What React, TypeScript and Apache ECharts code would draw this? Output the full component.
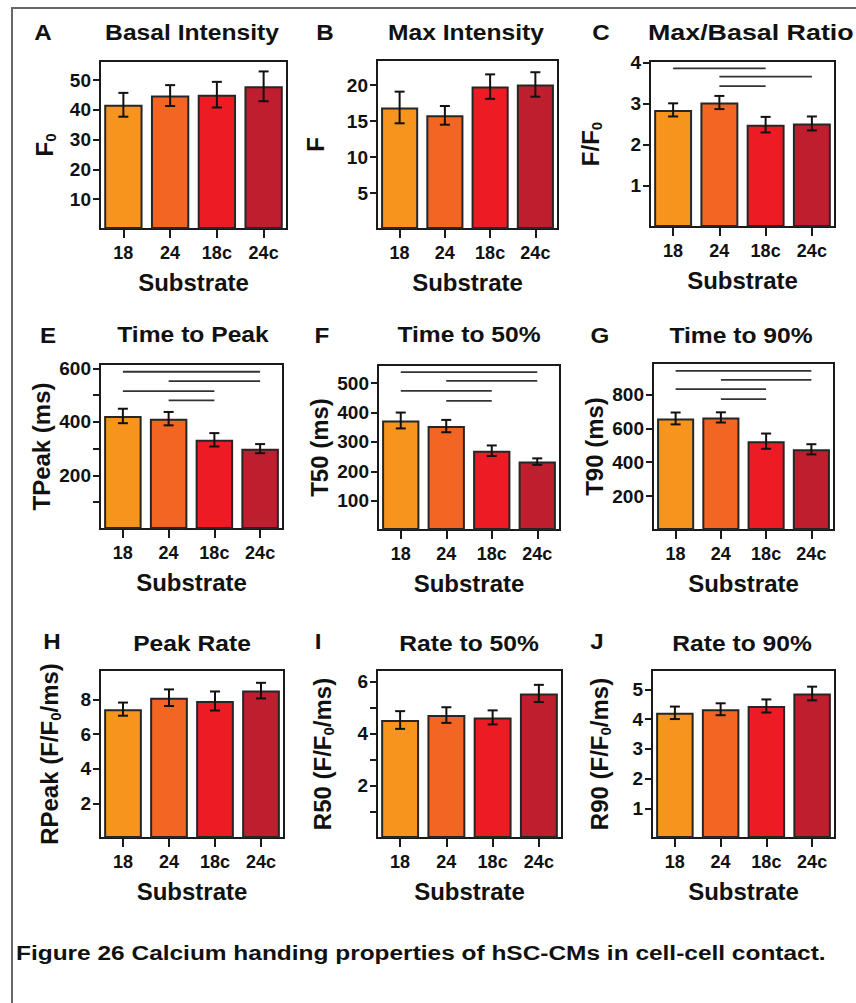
import React, { useEffect, useRef } from 'react';
import * as echarts from 'echarts';

const categories = ['18', '24', '18c', '24c'];
const barColors = ['#F7941E', '#F26522', '#ED1C24', '#BE1E2D'];

// A Basal Intensity
const basalMean = [41.7, 44.8, 45.1, 47.9];
const basalErr = [4.0, 3.5, 4.3, 5.0];
const basalTicks = [10, 20, 30, 40, 50];
// B Max Intensity
const maxMean = [16.9, 15.8, 19.8, 20.1];
const maxErr = [2.2, 1.3, 1.7, 1.7];
const maxTicks = [5, 10, 15, 20];
// C Max/Basal Ratio
const ratioMean = [2.85, 3.03, 2.49, 2.52];
const ratioErr = [0.16, 0.16, 0.19, 0.17];
const ratioTicks = [1, 2, 3, 4];
const ratioSig = [[0, 2, 3.86], [1, 3, 3.66], [1, 2, 3.43]];
// E Time to Peak
const tpeakMean = [422, 412, 333, 300];
const tpeakErr = [27, 25, 25, 17];
const tpeakTicks = [100, 200, 300, 400, 500, 600];
const tpeakLabels = [200, 400, 600];
const tpeakSig = [[0, 3, 587], [1, 3, 552], [0, 2, 515], [1, 2, 480]];
// F Time to 50%
const t50Mean = [373, 354, 270, 233];
const t50Err = [27, 21, 18, 11];
const t50Ticks = [100, 200, 300, 400, 500];
const t50Sig = [[0, 3, 538], [1, 3, 508], [0, 2, 474], [1, 2, 440]];
// G Time to 90%
const t90Mean = [658, 664, 524, 476];
const t90Err = [35, 30, 45, 30];
const t90Ticks = [200, 400, 600, 800];
const t90Sig = [[0, 3, 938], [1, 3, 885], [0, 2, 831], [1, 2, 772]];
// H Peak Rate
const rpeakMean = [7.44, 8.1, 7.91, 8.51];
const rpeakErr = [0.38, 0.48, 0.55, 0.45];
const rpeakTicks = [2, 4, 6, 8];
// I Rate to 50%
const r50Mean = [4.53, 4.72, 4.63, 5.55];
const r50Err = [0.34, 0.3, 0.27, 0.33];
const r50Ticks = [1, 2, 3, 4, 5, 6];
const r50Labels = [2, 4, 6];
// J Rate to 90%
const r90Mean = [4.21, 4.33, 4.44, 4.86];
const r90Err = [0.21, 0.2, 0.22, 0.23];
const r90Ticks = [1, 2, 3, 4, 5];

const FONT = 'Arial, "Liberation Sans", Helvetica, sans-serif';
const INK = '#111';

type Panel = {
  letter: string;
  title: string;
  yName: string;
  mean: number[];
  err: number[];
  ticks: number[];
  labels: number[];
  sig: number[][];
  max: number;
  grid: { left: number; top: number; width: number; height: number };
  letterPos: [number, number];
  titlePos: [number, number];
  titleAlign?: string;
  titleScale?: number;
  nameGap: number;
};

const panels: Panel[] = [
  { letter: 'A', title: 'Basal Intensity', yName: 'F{sub|0}', mean: basalMean, err: basalErr, ticks: basalTicks, labels: basalTicks, sig: [], max: 56.4,
    grid: { left: 100, top: 61, width: 187, height: 168 }, letterPos: [43, 32], titlePos: [192, 32], nameGap: 42 },
  { letter: 'B', title: 'Max Intensity', yName: 'F', mean: maxMean, err: maxErr, ticks: maxTicks, labels: maxTicks, sig: [], max: 23.5,
    grid: { left: 377, top: 60, width: 181, height: 169 }, letterPos: [325, 32], titlePos: [466, 32], nameGap: 48 },
  { letter: 'C', title: 'Max/Basal Ratio', yName: 'F/F{sub|0}', mean: ratioMean, err: ratioErr, ticks: ratioTicks, labels: ratioTicks, sig: ratioSig, max: 4.04,
    grid: { left: 650, top: 61, width: 185, height: 166 }, letterPos: [601, 32], titlePos: [648, 32], titleAlign: 'left', titleScale: 1.22, nameGap: 46 },
  { letter: 'E', title: 'Time to Peak', yName: 'TPeak (ms)', mean: tpeakMean, err: tpeakErr, ticks: tpeakTicks, labels: tpeakLabels, sig: tpeakSig, max: 616,
    grid: { left: 100, top: 364, width: 183, height: 165 }, letterPos: [48, 335], titlePos: [193, 334], nameGap: 44 },
  { letter: 'F', title: 'Time to 50%', yName: 'T50 (ms)', mean: t50Mean, err: t50Err, ticks: t50Ticks, labels: t50Ticks, sig: t50Sig, max: 562,
    grid: { left: 378, top: 365, width: 182, height: 165 }, letterPos: [322, 335], titlePos: [469, 334], nameGap: 45 },
  { letter: 'G', title: 'Time to 90%', yName: 'T90 (ms)', mean: t90Mean, err: t90Err, ticks: t90Ticks, labels: t90Ticks, sig: t90Sig, max: 985,
    grid: { left: 653, top: 363, width: 181, height: 167 }, letterPos: [600, 335], titlePos: [741, 335], nameGap: 45 },
  { letter: 'H', title: 'Peak Rate', yName: 'RPeak (F/F{sub|0}/ms)', mean: rpeakMean, err: rpeakErr, ticks: rpeakTicks, labels: rpeakTicks, sig: [], max: 9.7,
    grid: { left: 100, top: 670, width: 184, height: 168 }, letterPos: [52, 641], titlePos: [192, 643], nameGap: 37 },
  { letter: 'I', title: 'Rate to 50%', yName: 'R50 (F/F{sub|0}/ms)', mean: r50Mean, err: r50Err, ticks: r50Ticks, labels: r50Labels, sig: [], max: 6.45,
    grid: { left: 377, top: 670, width: 185, height: 168 }, letterPos: [318, 641], titlePos: [469, 643], nameGap: 41 },
  { letter: 'J', title: 'Rate to 90%', yName: 'R90 (F/F{sub|0}/ms)', mean: r90Mean, err: r90Err, ticks: r90Ticks, labels: r90Ticks, sig: [], max: 5.65,
    grid: { left: 652, top: 670, width: 183, height: 168 }, letterPos: [597, 641], titlePos: [742, 643], nameGap: 39 },
];

const caption = 'Figure 26 Calcium handing properties of hSC-CMs in cell-cell contact.';

function textEl(text: string, x: number, y: number, fontSize: number, scaleX: number, align = 'center') {
  return {
    type: 'text',
    x,
    y,
    scaleX,
    scaleY: 1,
    z: 20,
    style: {
      text,
      x: 0,
      y: 0,
      fill: INK,
      fontSize,
      fontWeight: 'bold',
      fontFamily: FONT,
      align,
      textAlign: align,
      verticalAlign: 'middle',
      textVerticalAlign: 'middle',
    },
  };
}

export default function App() {
  const ref = useRef<HTMLDivElement>(null);

  useEffect(() => {
    if (!ref.current) return;
    const chart = echarts.init(ref.current, null, { renderer: 'svg' });

    const grids = panels.map((p) => ({
      left: p.grid.left,
      top: p.grid.top,
      width: p.grid.width,
      height: p.grid.height,
      show: true,
      borderColor: '#1a1a1a',
      borderWidth: 2,
      backgroundColor: 'transparent',
      containLabel: false,
    }));

    const xAxes = panels.map((p, i) => ({
      type: 'category',
      gridIndex: i,
      data: categories,
      boundaryGap: true,
      axisLine: { show: false },
      axisTick: { show: true, alignWithLabel: true, length: 9, lineStyle: { color: '#1a1a1a', width: 2 } },
      axisLabel: { fontSize: 18, fontWeight: 'bold', color: INK, margin: 15, fontFamily: FONT },
      splitLine: { show: false },
      name: 'Substrate',
      nameLocation: 'middle',
      nameGap: 41,
      nameTextStyle: { fontSize: 24, fontWeight: 'bold', color: INK, fontFamily: FONT },
    }));

    const yAxes = panels.map((p, i) => ({
      type: 'value',
      gridIndex: i,
      min: 0,
      max: p.max,
      axisLine: { show: false },
      splitLine: { show: false },
      axisTick: { show: true, length: 7, lineStyle: { color: '#1a1a1a', width: 2 }, customValues: p.ticks },
      axisLabel: { customValues: p.labels, fontSize: 19, fontWeight: 'bold', color: INK, margin: 9, fontFamily: FONT },
      name: p.yName,
      nameLocation: 'middle',
      nameGap: p.nameGap,
      nameTextStyle: {
        fontSize: 24,
        fontWeight: 'bold',
        color: INK,
        fontFamily: FONT,
        lineHeight: 28,
        rich: {
          sub: { fontSize: 15, fontWeight: 'bold', color: INK, fontFamily: FONT, lineHeight: 10, verticalAlign: 'bottom' },
        },
      },
    }));

    const series: any[] = [];
    panels.forEach((p, i) => {
      series.push({
        type: 'bar',
        xAxisIndex: i,
        yAxisIndex: i,
        barCategoryGap: '18%',
        data: p.mean.map((v, j) => ({ value: v, itemStyle: { color: barColors[j] } })),
        itemStyle: { borderColor: '#262626', borderWidth: 2 },
        silent: true,
      });
      series.push({
        type: 'custom',
        xAxisIndex: i,
        yAxisIndex: i,
        z: 4,
        silent: true,
        encode: { x: 0, y: 1 },
        data: p.mean.map((v, j) => [j, v, p.err[j]]),
        renderItem: (params: any, api: any) => {
          const x = api.value(0);
          const m = api.value(1);
          const e = api.value(2);
          const hi = api.coord([x, m + e]);
          const lo = api.coord([x, m - e]);
          const cw = 5;
          const style = { stroke: '#111', lineWidth: 2 };
          return {
            type: 'group',
            children: [
              { type: 'line', shape: { x1: hi[0], y1: hi[1], x2: lo[0], y2: lo[1] }, style },
              { type: 'line', shape: { x1: hi[0] - cw, y1: hi[1], x2: hi[0] + cw, y2: hi[1] }, style },
              { type: 'line', shape: { x1: lo[0] - cw, y1: lo[1], x2: lo[0] + cw, y2: lo[1] }, style },
            ],
          };
        },
      });
      p.sig.forEach((s) => {
        series.push({
          type: 'line',
          xAxisIndex: i,
          yAxisIndex: i,
          data: [[s[0], s[2]], [s[1], s[2]]],
          symbol: 'none',
          silent: true,
          z: 5,
          lineStyle: { color: '#333', width: 1.8 },
        });
      });
    });

    const graphics: any[] = [
      {
        type: 'polyline',
        shape: { points: [[12, 1003], [12, 8], [856, 8]] },
        style: { stroke: '#666', lineWidth: 2, fill: null },
        z: 1,
      },
    ];
    panels.forEach((p) => {
      graphics.push(textEl(p.letter, p.letterPos[0], p.letterPos[1], 22, 1.1));
      graphics.push(textEl(p.title, p.titlePos[0], p.titlePos[1], 22, p.titleScale ?? 1.12, p.titleAlign ?? 'center'));
    });
    graphics.push(textEl(caption, 16, 953, 21, 1.165, 'left'));

    chart.setOption({
      animation: false,
      textStyle: { fontFamily: FONT },
      grid: grids,
      xAxis: xAxes,
      yAxis: yAxes,
      series,
      graphic: { elements: graphics },
    });

    return () => chart.dispose();
  }, []);

  return (
    <div
      ref={ref}
      style={{ position: 'absolute', left: 0, top: 0, width: 856, height: 1003, background: '#fff' }}
    />
  );
}
